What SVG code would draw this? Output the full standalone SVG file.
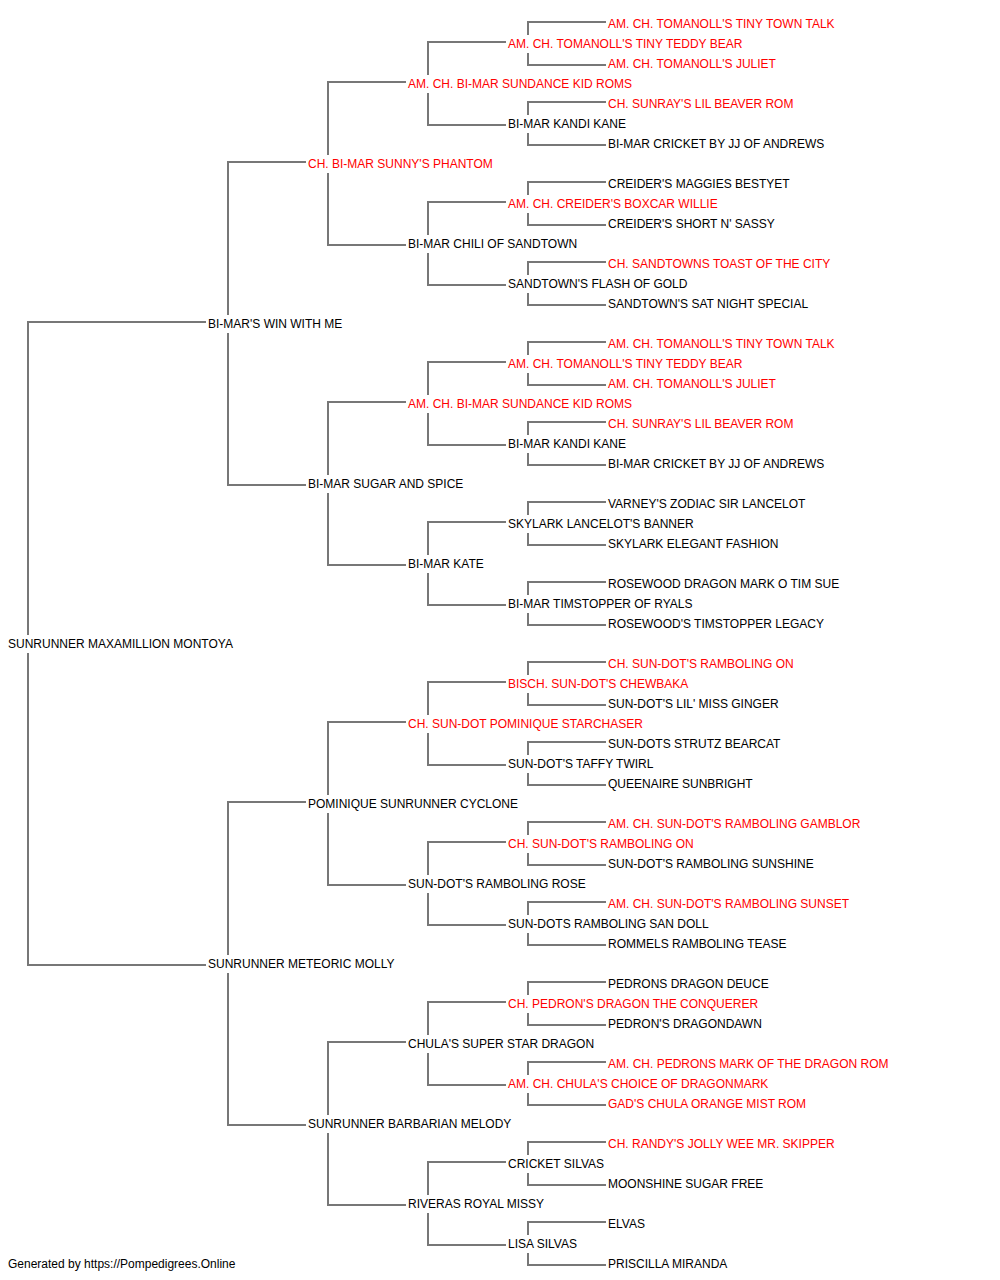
<svg xmlns="http://www.w3.org/2000/svg" width="1000" height="1280" viewBox="0 0 1000 1280">
<style>
text{font-family:"Liberation Sans",Arial,sans-serif;font-size:12px;fill:#000}
text.r{fill:#ff0000}
.c path{fill:none;stroke:#777;stroke-width:2}
</style>
<rect width="1000" height="1280" fill="#fff"/>
<g class="c" id="connectors">
<path d="M206,322H28V635M28,653V965H206"/>
<path d="M306,162H228V315M228,333V485H306"/>
<path d="M306,802H228V955M228,973V1125H306"/>
<path d="M406,82H328V155M328,173V245H406"/>
<path d="M406,402H328V475M328,493V565H406"/>
<path d="M406,722H328V795M328,813V885H406"/>
<path d="M406,1042H328V1115M328,1133V1205H406"/>
<path d="M506,42H428V75M428,93V125H506"/>
<path d="M506,202H428V235M428,253V285H506"/>
<path d="M506,362H428V395M428,413V445H506"/>
<path d="M506,522H428V555M428,573V605H506"/>
<path d="M506,682H428V715M428,733V765H506"/>
<path d="M506,842H428V875M428,893V925H506"/>
<path d="M506,1002H428V1035M428,1053V1085H506"/>
<path d="M506,1162H428V1195M428,1213V1245H506"/>
<path d="M606,22H528V35M528,53V65H606"/>
<path d="M606,102H528V115M528,133V145H606"/>
<path d="M606,182H528V195M528,213V225H606"/>
<path d="M606,262H528V275M528,293V305H606"/>
<path d="M606,342H528V355M528,373V385H606"/>
<path d="M606,422H528V435M528,453V465H606"/>
<path d="M606,502H528V515M528,533V545H606"/>
<path d="M606,582H528V595M528,613V625H606"/>
<path d="M606,662H528V675M528,693V705H606"/>
<path d="M606,742H528V755M528,773V785H606"/>
<path d="M606,822H528V835M528,853V865H606"/>
<path d="M606,902H528V915M528,933V945H606"/>
<path d="M606,982H528V995M528,1013V1025H606"/>
<path d="M606,1062H528V1075M528,1093V1105H606"/>
<path d="M606,1142H528V1155M528,1173V1185H606"/>
<path d="M606,1222H528V1235M528,1253V1265H606"/>
</g>
<g id="n0"><text class="r" x="608" y="28">AM. CH. TOMANOLL'S TINY TOWN TALK</text></g>
<g id="n1"><text class="r" x="508" y="48">AM. CH. TOMANOLL'S TINY TEDDY BEAR</text></g>
<g id="n2"><text class="r" x="608" y="68">AM. CH. TOMANOLL'S JULIET</text></g>
<g id="n3"><text class="r" x="408" y="88">AM. CH. BI-MAR SUNDANCE KID ROMS</text></g>
<g id="n4"><text class="r" x="608" y="108">CH. SUNRAY'S LIL BEAVER ROM</text></g>
<g id="n5"><text x="508" y="128">BI-MAR KANDI KANE</text></g>
<g id="n6"><text x="608" y="148">BI-MAR CRICKET BY JJ OF ANDREWS</text></g>
<g id="n7"><text class="r" x="308" y="168">CH. BI-MAR SUNNY'S PHANTOM</text></g>
<g id="n8"><text x="608" y="188">CREIDER'S MAGGIES BESTYET</text></g>
<g id="n9"><text class="r" x="508" y="208">AM. CH. CREIDER'S BOXCAR WILLIE</text></g>
<g id="n10"><text x="608" y="228">CREIDER'S SHORT N' SASSY</text></g>
<g id="n11"><text x="408" y="248">BI-MAR CHILI OF SANDTOWN</text></g>
<g id="n12"><text class="r" x="608" y="268">CH. SANDTOWNS TOAST OF THE CITY</text></g>
<g id="n13"><text x="508" y="288">SANDTOWN'S FLASH OF GOLD</text></g>
<g id="n14"><text x="608" y="308">SANDTOWN'S SAT NIGHT SPECIAL</text></g>
<g id="n15"><text x="208" y="328">BI-MAR'S WIN WITH ME</text></g>
<g id="n16"><text class="r" x="608" y="348">AM. CH. TOMANOLL'S TINY TOWN TALK</text></g>
<g id="n17"><text class="r" x="508" y="368">AM. CH. TOMANOLL'S TINY TEDDY BEAR</text></g>
<g id="n18"><text class="r" x="608" y="388">AM. CH. TOMANOLL'S JULIET</text></g>
<g id="n19"><text class="r" x="408" y="408">AM. CH. BI-MAR SUNDANCE KID ROMS</text></g>
<g id="n20"><text class="r" x="608" y="428">CH. SUNRAY'S LIL BEAVER ROM</text></g>
<g id="n21"><text x="508" y="448">BI-MAR KANDI KANE</text></g>
<g id="n22"><text x="608" y="468">BI-MAR CRICKET BY JJ OF ANDREWS</text></g>
<g id="n23"><text x="308" y="488">BI-MAR SUGAR AND SPICE</text></g>
<g id="n24"><text x="608" y="508">VARNEY'S ZODIAC SIR LANCELOT</text></g>
<g id="n25"><text x="508" y="528">SKYLARK LANCELOT'S BANNER</text></g>
<g id="n26"><text x="608" y="548">SKYLARK ELEGANT FASHION</text></g>
<g id="n27"><text x="408" y="568">BI-MAR KATE</text></g>
<g id="n28"><text x="608" y="588">ROSEWOOD DRAGON MARK O TIM SUE</text></g>
<g id="n29"><text x="508" y="608">BI-MAR TIMSTOPPER OF RYALS</text></g>
<g id="n30"><text x="608" y="628">ROSEWOOD'S TIMSTOPPER LEGACY</text></g>
<g id="n31"><text x="8" y="648">SUNRUNNER MAXAMILLION MONTOYA</text></g>
<g id="n32"><text class="r" x="608" y="668">CH. SUN-DOT'S RAMBOLING ON</text></g>
<g id="n33"><text class="r" x="508" y="688">BISCH. SUN-DOT'S CHEWBAKA</text></g>
<g id="n34"><text x="608" y="708">SUN-DOT'S LIL' MISS GINGER</text></g>
<g id="n35"><text class="r" x="408" y="728">CH. SUN-DOT POMINIQUE STARCHASER</text></g>
<g id="n36"><text x="608" y="748">SUN-DOTS STRUTZ BEARCAT</text></g>
<g id="n37"><text x="508" y="768">SUN-DOT'S TAFFY TWIRL</text></g>
<g id="n38"><text x="608" y="788">QUEENAIRE SUNBRIGHT</text></g>
<g id="n39"><text x="308" y="808">POMINIQUE SUNRUNNER CYCLONE</text></g>
<g id="n40"><text class="r" x="608" y="828">AM. CH. SUN-DOT'S RAMBOLING GAMBLOR</text></g>
<g id="n41"><text class="r" x="508" y="848">CH. SUN-DOT'S RAMBOLING ON</text></g>
<g id="n42"><text x="608" y="868">SUN-DOT'S RAMBOLING SUNSHINE</text></g>
<g id="n43"><text x="408" y="888">SUN-DOT'S RAMBOLING ROSE</text></g>
<g id="n44"><text class="r" x="608" y="908">AM. CH. SUN-DOT'S RAMBOLING SUNSET</text></g>
<g id="n45"><text x="508" y="928">SUN-DOTS RAMBOLING SAN DOLL</text></g>
<g id="n46"><text x="608" y="948">ROMMELS RAMBOLING TEASE</text></g>
<g id="n47"><text x="208" y="968">SUNRUNNER METEORIC MOLLY</text></g>
<g id="n48"><text x="608" y="988">PEDRONS DRAGON DEUCE</text></g>
<g id="n49"><text class="r" x="508" y="1008">CH. PEDRON'S DRAGON THE CONQUERER</text></g>
<g id="n50"><text x="608" y="1028">PEDRON'S DRAGONDAWN</text></g>
<g id="n51"><text x="408" y="1048">CHULA'S SUPER STAR DRAGON</text></g>
<g id="n52"><text class="r" x="608" y="1068">AM. CH. PEDRONS MARK OF THE DRAGON ROM</text></g>
<g id="n53"><text class="r" x="508" y="1088">AM. CH. CHULA'S CHOICE OF DRAGONMARK</text></g>
<g id="n54"><text class="r" x="608" y="1108">GAD'S CHULA ORANGE MIST ROM</text></g>
<g id="n55"><text x="308" y="1128">SUNRUNNER BARBARIAN MELODY</text></g>
<g id="n56"><text class="r" x="608" y="1148">CH. RANDY'S JOLLY WEE MR. SKIPPER</text></g>
<g id="n57"><text x="508" y="1168">CRICKET SILVAS</text></g>
<g id="n58"><text x="608" y="1188">MOONSHINE SUGAR FREE</text></g>
<g id="n59"><text x="408" y="1208">RIVERAS ROYAL MISSY</text></g>
<g id="n60"><text x="608" y="1228">ELVAS</text></g>
<g id="n61"><text x="508" y="1248">LISA SILVAS</text></g>
<g id="n62"><text x="608" y="1268">PRISCILLA MIRANDA</text></g>
<text x="8" y="1268">Generated by https://Pompedigrees.Online</text>
</svg>
